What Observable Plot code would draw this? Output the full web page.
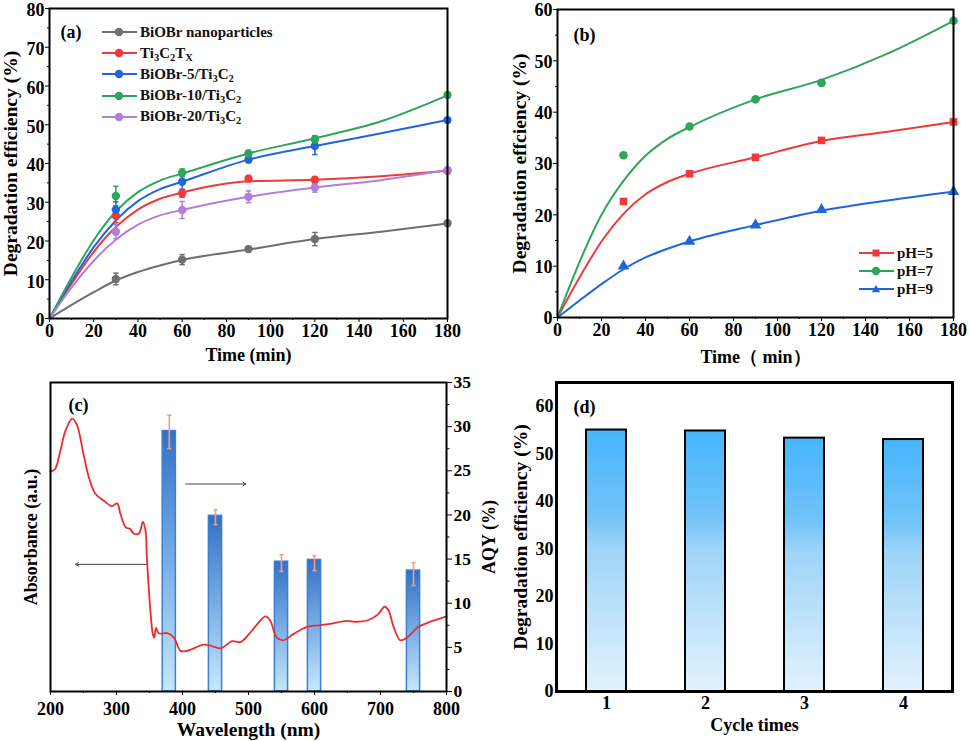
<!DOCTYPE html>
<html>
<head>
<meta charset="utf-8">
<script src="https://cdn.jsdelivr.net/npm/d3@7"></script>
<script src="https://cdn.jsdelivr.net/npm/@observablehq/plot@0.6"></script>
<style>
  html, body { margin: 0; padding: 0; background: #fff; }
  #fig { position: relative; width: 969px; height: 741px; overflow: hidden;
         font-family: "Liberation Serif", "Times New Roman", serif; font-weight: bold; }
  #fig > svg { position: absolute; }
  #fig svg text { font-family: "Liberation Serif", "Times New Roman", serif; font-weight: bold; }
  .legend { position: absolute; font-size: 15px; color: #111; }
  .legend .row { display: flex; align-items: center; white-space: nowrap; }
  .legend svg { display: block; margin-right: 3px; }
  .legend sub { font-size: 0.7em; vertical-align: -0.3em; line-height: 0; }
</style>
</head>
<body>
<div id="fig"></div>
<script>
// ---------------- Panel (a) data ----------------
const timeA = [0, 30, 60, 90, 120, 180];
const seriesA = ["BiOBr nanoparticles", "Ti3C2TX", "BiOBr-5/Ti3C2", "BiOBr-10/Ti3C2", "BiOBr-20/Ti3C2"];
const effNano = [0, 10.2, 15.2, 17.9, 20.5, 24.6];
const errNano = [0, 1.5, 1.3, 0.7, 1.7, 0.5];
const effTiC  = [0, 26.5, 32.3, 36.1, 35.8, 38.1];
const errTiC  = [0, 1.8, 1.0, 0.8, 0.8, 0.3];
const effB5   = [0, 28.1, 35.3, 41.0, 44.5, 51.2];
const errB5   = [0, 2.0, 2.0, 0.8, 2.2, 0.3];
const effB10  = [0, 31.6, 37.6, 42.6, 46.2, 57.7];
const errB10  = [0, 2.5, 1.0, 0.8, 1.0, 0.4];
const effB20  = [0, 22.4, 28.0, 31.4, 33.8, 38.3];
const errB20  = [0, 1.8, 2.2, 1.5, 1.2, 0.5];
// fitted curves
const fitTimeA = [0, 10, 20, 30, 40, 50, 60, 90, 120, 150, 180];
const fitNano  = [0, 3.5, 6.8, 9.8, 12.0, 13.7, 15.1, 17.8, 20.5, 22.4, 24.5];
const fitTiC   = [0, 9.0, 17.2, 23.6, 28.1, 30.9, 32.5, 35.4, 35.8, 36.7, 38.1];
const fitB5    = [0, 9.6, 18.4, 25.3, 30.3, 33.4, 35.3, 41.0, 44.5, 47.8, 51.2];
const fitB10   = [0, 10.6, 20.2, 27.6, 32.6, 35.6, 37.4, 42.6, 46.5, 50.9, 57.6];
const fitB20   = [0, 8.0, 14.9, 20.3, 24.2, 26.6, 28.0, 31.4, 33.8, 35.7, 38.3];

// ---------------- Panel (b) data ----------------
const timeB = [0, 30, 60, 90, 120, 180];
const seriesB = ["pH=5", "pH=7", "pH=9"];
const ph5 = [0, 22.6, 28.0, 31.2, 34.5, 38.1];
const ph7 = [0, 31.6, 37.2, 42.5, 45.7, 57.8];
const ph9 = [0, 10.0, 14.8, 18.0, 21.0, 24.5];
const fitTimeB = [0, 10, 20, 30, 40, 50, 60, 90, 120, 150, 180];
const fitPh5 = [0, 7.8, 14.8, 20.2, 24.0, 26.4, 28.0, 31.2, 34.4, 36.2, 38.1];
const fitPh7 = [0, 10.8, 20.0, 26.6, 31.5, 34.8, 37.1, 42.5, 46.3, 51.4, 57.8];
const fitPh9 = [0, 3.3, 6.5, 9.4, 11.7, 13.4, 14.8, 18.0, 20.8, 22.8, 24.5];

// ---------------- Panel (c) data ----------------
const wlAbs = [200, 207, 215, 223, 233, 240, 250, 258, 268, 281, 293, 301, 306, 314, 321, 326, 334, 340, 344, 346, 351, 355, 357, 360, 364, 377, 387, 397, 407, 432, 442, 458, 475, 488, 503, 513, 526, 533, 543, 553, 568, 588, 606, 626, 649, 662, 682, 697, 706, 712, 720, 730, 740, 757, 772, 800];
const absorb = [24.9, 25.2, 27.3, 29.6, 30.9, 30.2, 26.9, 24.3, 22.4, 21.6, 21.0, 21.3, 20.1, 18.6, 18.4, 17.9, 17.9, 19.2, 18.2, 15.2, 9.5, 6.5, 6.1, 7.2, 6.6, 6.6, 6.1, 4.6, 4.6, 5.3, 5.2, 4.9, 5.7, 5.6, 6.7, 7.6, 8.5, 8.0, 6.1, 5.8, 6.5, 7.3, 7.5, 7.7, 8.0, 7.9, 8.1, 8.8, 9.6, 9.2, 7.3, 5.8, 6.1, 7.3, 7.8, 8.5];
const wlBars = [380, 450, 550, 600, 750];
const aqy     = [29.5, 19.9, 14.7, 14.9, 13.7];
const aqyLow  = [27.5, 18.9, 13.6, 13.7, 12.0];
const aqyHigh = [31.3, 20.6, 15.5, 15.4, 14.6];
const arrowFrom = [345, 405];
const arrowTo   = [238, 496];
const arrowAt   = [14.4, 23.5];

// ---------------- Panel (d) data ----------------
const cycles = [1, 2, 3, 4];
const cycleEff = [55.0, 54.8, 53.3, 53.0];

// ---------------- styles ----------------
const colorsA = ["#6f6f6f", "#f03a3a", "#1f66dd", "#2ea55b", "#b27ddb"];
const colorsB = ["#f03a3a", "#2ea55b", "#1f66dd"];
const symbolsB = ["square", "circle", "triangle"];
const serif = '"Liberation Serif", "Times New Roman", serif';
const baseStyle = () => ({background: "transparent", fontFamily: serif, fontSize: "18px", fontWeight: "bold", color: "black", overflow: "visible"});
const txt = {fontSize: 18, fontFamily: serif, fontWeight: "bold"};
const big = {fontSize: 19.5, fontFamily: serif, fontWeight: "bold"};
const cap = {draw(ctx, size) { const w = Math.sqrt(size) / 2; ctx.moveTo(-w, 0); ctx.lineTo(w, 0); }};

const fig = document.getElementById("fig");
function place(svg, left, top) { svg.style.left = left + "px"; svg.style.top = top + "px"; fig.appendChild(svg); return svg; }

// ---------------- Panel (a) ----------------
const effA = [effNano, effTiC, effB5, effB10, effB20];
const errA = [errNano, errTiC, errB5, errB10, errB20];
const fitA = [fitNano, fitTiC, fitB5, fitB10, fitB20];
const ptsA = seriesA.flatMap((s, i) => timeA.map((t, j) => ({series: s, t, v: effA[i][j], e: errA[i][j]}))).filter(d => d.t > 0);
const curvesA = seriesA.flatMap((s, i) => fitTimeA.map((t, j) => ({series: s, t, v: fitA[i][j]})));

const plotA = Plot.plot({
  width: 480, height: 370, marginLeft: 49, marginRight: 33, marginTop: 8, marginBottom: 52,
  style: baseStyle(),
  x: {domain: [0, 180]}, y: {domain: [0, 80]},
  color: {domain: seriesA, range: colorsA},
  marks: [
    Plot.axisX({...txt, ticks: d3.range(0, 181, 20), tickSize: 4, tickPadding: 2, label: "Time (min)", labelAnchor: "center", labelOffset: 42, labelArrow: "none"}),
    Plot.axisX({ticks: d3.range(10, 180, 20), tickSize: 2, tickFormat: () => "", label: null}),
    Plot.axisY({ticks: d3.range(0, 81, 10), tickSize: 4, tickFormat: () => "", label: null}),
    Plot.axisY({...txt, ticks: d3.range(0, 81, 10), tickSize: 0, tickPadding: 5, dy: 2, label: null}),
    Plot.axisY({...big, ticks: [], label: "Degradation efficiency (%)", labelAnchor: "center", labelOffset: 46, labelArrow: "none"}),
    Plot.axisY({ticks: d3.range(5, 80, 10), tickSize: 2, tickFormat: () => "", label: null}),
    Plot.line(curvesA, {x: "t", y: "v", z: "series", stroke: "series", strokeWidth: 2, curve: "monotone-x"}),
    Plot.ruleX(ptsA, {x: "t", y1: d => d.v - d.e, y2: d => d.v + d.e, stroke: "series", strokeWidth: 1.5}),
    Plot.dot(ptsA, {x: "t", y: d => d.v + d.e, symbol: cap, r: 3, stroke: "series", strokeWidth: 1.5}),
    Plot.dot(ptsA, {x: "t", y: d => d.v - d.e, symbol: cap, r: 3, stroke: "series", strokeWidth: 1.5}),
    Plot.dot(ptsA, {x: "t", y: "v", fill: "series", r: 4.2}),
    Plot.text(["(a)"], {...txt, text: d => d, frameAnchor: "top-left", dx: 11, dy: 24, lineAnchor: "middle", textAnchor: "start"}),
    Plot.frame({stroke: "black", strokeWidth: 2})
  ]
});
place(plotA, 0, 0);

// ---------------- Panel (b) ----------------
const effB = [ph5, ph7, ph9];
const fitB = [fitPh5, fitPh7, fitPh9];
const ptsB = seriesB.flatMap((s, i) => timeB.map((t, j) => ({series: s, t, v: effB[i][j]}))).filter(d => d.t > 0);
const curvesB = seriesB.flatMap((s, i) => fitTimeB.map((t, j) => ({series: s, t, v: fitB[i][j]})));

const plotB = Plot.plot({
  width: 489, height: 370, marginLeft: 77, marginRight: 16, marginTop: 9, marginBottom: 53,
  style: baseStyle(),
  x: {domain: [0, 180]}, y: {domain: [0, 60]},
  color: {domain: seriesB, range: colorsB},
  symbol: {domain: seriesB, range: symbolsB},
  marks: [
    Plot.axisX({...txt, ticks: d3.range(0, 181, 20), tickSize: 4, tickPadding: 2, label: "Time\uFF08 min\uFF09", labelAnchor: "center", labelOffset: 45, labelArrow: "none"}),
    Plot.axisX({ticks: d3.range(10, 180, 20), tickSize: 2, tickFormat: () => "", label: null}),
    Plot.axisY({ticks: d3.range(0, 61, 10), tickSize: 4, tickFormat: () => "", label: null}),
    Plot.axisY({...txt, ticks: d3.range(0, 61, 10), tickSize: 0, tickPadding: 5, dy: 1, label: null}),
    Plot.axisY({...big, ticks: [], label: "Degradation effciency (%)", labelAnchor: "center", labelOffset: 45, labelArrow: "none"}),
    Plot.axisY({ticks: d3.range(5, 60, 10), tickSize: 2, tickFormat: () => "", label: null}),
    Plot.line(curvesB, {x: "t", y: "v", z: "series", stroke: "series", strokeWidth: 2, curve: "monotone-x"}),
    Plot.dot(ptsB, {x: "t", y: "v", fill: "series", symbol: "series", r: 4.3}),
    Plot.text(["(b)"], {...txt, text: d => d, frameAnchor: "top-left", dx: 16, dy: 26, lineAnchor: "middle", textAnchor: "start"}),
    Plot.frame({stroke: "black", strokeWidth: 2})
  ]
});
place(plotB, 480, 0);

// ---------------- Panel (d) ----------------
const rowsD = cycles.map((c, i) => ({c, v: cycleEff[i]}));
const plotD = Plot.plot({
  width: 489, height: 371, marginLeft: 76, marginRight: 17, marginTop: 12, marginBottom: 50,
  style: baseStyle(),
  x: {type: "band", domain: cycles, paddingInner: 0.6, paddingOuter: 0.3},
  y: {domain: [0, 65]},
  marks: [
    Plot.axisX({...txt, tickSize: 0, tickPadding: 5, label: "Cycle times", labelAnchor: "center", labelOffset: 39, labelArrow: "none"}),
    Plot.axisY({...txt, ticks: d3.range(0, 61, 10), tickSize: 0, tickPadding: 3, label: null}),
    Plot.axisY({...big, ticks: [], label: "Degradation efficiency (%)", labelAnchor: "center", labelOffset: 43, labelArrow: "none"}),
    Plot.barY(rowsD, {x: "c", y: "v", fill: "url(#gradD)", stroke: "black", strokeWidth: 2}),
    Plot.text(["(d)"], {...txt, text: d => d, frameAnchor: "top-left", dx: 17, dy: 25, lineAnchor: "middle", textAnchor: "start"}),
    Plot.frame({stroke: "black", strokeWidth: 3})
  ]
});
d3.select(plotD).insert("defs", ":first-child").html(
  '<linearGradient id="gradD" x1="0" y1="0" x2="0" y2="1">' +
  '<stop offset="0" stop-color="#46b5fd"/><stop offset="0.33" stop-color="#72c3f9"/>' +
  '<stop offset="0.45" stop-color="#9dd4f8"/><stop offset="1" stop-color="#e2f2fd"/></linearGradient>');
place(plotD, 480, 370);

// ---------------- Panel (c) ----------------
const absRows = wlAbs.map((w, i) => ({w, a: absorb[i]}));
const barRows = wlBars.map((w, i) => ({w, v: aqy[i], lo: aqyLow[i], hi: aqyHigh[i]}));
const arrowRows = arrowFrom.map((f, i) => ({x1: f, x2: arrowTo[i], y: arrowAt[i]}));
const plotC = Plot.plot({
  width: 500, height: 371, marginLeft: 50, marginRight: 54, marginTop: 12, marginBottom: 50,
  style: baseStyle(),
  x: {domain: [200, 800]}, y: {domain: [0, 35]},
  marks: [
    Plot.axisX({...txt, ticks: d3.range(200, 801, 100), tickSize: 4, tickPadding: 7, label: null}),
    Plot.axisX({...big, ticks: [], label: "Wavelength (nm)", labelAnchor: "center", labelOffset: 44, labelArrow: "none"}),
    Plot.axisX({ticks: d3.range(250, 800, 100), tickSize: 2, tickFormat: () => "", label: null}),
    Plot.axisY({...txt, anchor: "left", ticks: [], label: "Absorbance (a.u.)", labelAnchor: "center", labelOffset: 26, labelArrow: "none"}),
    Plot.axisY({...txt, fontSize: 17.5, anchor: "right", ticks: d3.range(0, 36, 5), tickSize: 5, tickPadding: 2, label: null}),
    Plot.axisY({...txt, anchor: "right", ticks: [], label: "AQY (%)", labelAnchor: "center", labelOffset: 48, labelArrow: "none"}),
    Plot.axisY({anchor: "right", ticks: d3.range(2.5, 35, 5), tickSize: 2.5, tickFormat: () => "", label: null}),
    Plot.rectY(barRows, {x1: d => d.w - 10, x2: d => d.w + 10, y: "v", fill: "url(#gradC)", stroke: "#3d7ed3", strokeWidth: 1.5}),
    Plot.line(absRows, {x: "w", y: "a", stroke: "#ee2b2b", strokeWidth: 1.8, curve: "catmull-rom"}),
    Plot.ruleX(barRows, {x: "w", y1: "lo", y2: "hi", stroke: "#f3a07a", strokeWidth: 1.6}),
    Plot.dot(barRows, {x: "w", y: "lo", symbol: cap, r: 2.3, stroke: "#f3a07a", strokeWidth: 1.6}),
    Plot.dot(barRows, {x: "w", y: "hi", symbol: cap, r: 2.3, stroke: "#f3a07a", strokeWidth: 1.6}),
    Plot.arrow(arrowRows, {x1: "x1", x2: "x2", y1: "y", y2: "y", stroke: "#444", strokeWidth: 1, headLength: 5}),
    Plot.text(["(c)"], {...txt, text: d => d, frameAnchor: "top-left", dx: 18, dy: 23, lineAnchor: "middle", textAnchor: "start"}),
    Plot.frame({stroke: "black", strokeWidth: 2})
  ]
});
d3.select(plotC).insert("defs", ":first-child").html(
  '<linearGradient id="gradC" x1="0" y1="0" x2="0" y2="1">' +
  '<stop offset="0" stop-color="#3370c6"/><stop offset="0.5" stop-color="#78ade4"/>' +
  '<stop offset="1" stop-color="#c6e8fc"/></linearGradient>');
place(plotC, 0, 370);

// ---------------- HTML legends ----------------
const subfmt = s => s.replace(/(Ti|C)(\d)/g, "$1<sub>$2</sub>").replace(/TX$/, "T<sub>X</sub>");
function legend(names, colors, shapes, left, top, rowH) {
  const div = document.createElement("div");
  div.className = "legend";
  div.style.left = left + "px"; div.style.top = top + "px";
  names.forEach((n, i) => {
    const row = document.createElement("div");
    row.className = "row"; row.style.height = rowH + "px";
    const c = colors[i];
    let marker;
    if (shapes[i] === "square") marker = `<rect x="13.5" y="2.5" width="7" height="7" fill="${c}"/>`;
    else if (shapes[i] === "triangle") marker = `<path d="M17,1.8 L21.2,9.2 L12.8,9.2 Z" fill="${c}"/>`;
    else marker = `<circle cx="17" cy="6" r="4.2" fill="${c}"/>`;
    row.innerHTML = `<svg width="35" height="12"><line x1="0" y1="6" x2="35" y2="6" stroke="${c}" stroke-width="2.2"/>${marker}</svg><span>${subfmt(n)}</span>`;
    div.appendChild(row);
  });
  fig.appendChild(div);
}
legend(seriesA, colorsA, seriesA.map(() => "circle"), 102, 21.5, 21.2);
legend(seriesB, colorsB, symbolsB, 859, 244, 18);
</script>
</body>
</html>
